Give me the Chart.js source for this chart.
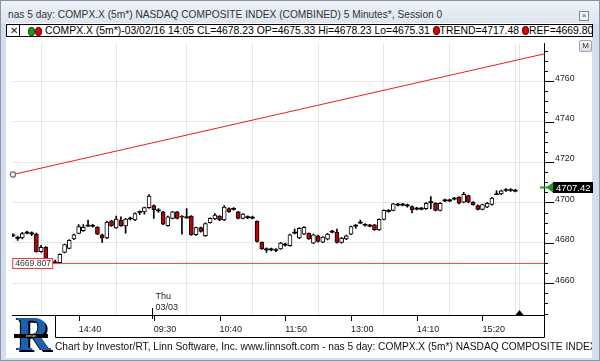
<!DOCTYPE html>
<html>
<head>
<meta charset="utf-8">
<script src="https://cdn.jsdelivr.net/npm/chart.js@4.4.1/dist/chart.umd.min.js"></script>
<style>
html,body{margin:0;padding:0;width:600px;height:361px;overflow:hidden;font-family:'Liberation Sans',Arial,sans-serif;}
#win{position:absolute;left:0;top:0;width:598px;height:359px;background:#d3deed;border:1px solid #8a96a3;}
#titlebar{position:absolute;left:0;top:0;width:598px;height:23px;background:linear-gradient(#eef2f7,#dde5ef);}
#title{position:absolute;left:7px;top:8px;font-size:10.2px;line-height:12px;color:#333;white-space:nowrap;}
#closebtn{position:absolute;left:578px;top:10px;width:8px;height:8px;border:1px solid #7d8a99;background:#f4f6f9;font-size:8px;line-height:8px;text-align:center;color:#444;}
#panel{position:absolute;left:6px;top:23px;width:586px;height:335px;background:#fff;}
#legend{position:absolute;left:6px;top:24px;width:585px;height:11px;border:1px solid #000;background:#fff;overflow:hidden;white-space:nowrap;}
#lx{position:absolute;left:1px;top:0px;width:11px;height:11px;border-right:1px solid #000;font-size:10px;line-height:11px;text-align:center;color:#222;}
.dot{display:inline-block;width:5px;height:7px;border-radius:50%;vertical-align:-0.5px;}
.g{background:#1f9a1f;border:0.5px solid #0b4d0b;}
.r{background:#e00000;border:0.5px solid #6a0000;}
#ld1{position:absolute;left:21px;top:1.5px;}
#ld2{position:absolute;left:28px;top:1.5px;}
#ltext{position:absolute;left:38px;top:0px;font-size:10.4px;line-height:11px;color:#000;}
#chartbox{position:absolute;left:7px;top:38px;width:586px;height:308px;}
#mbtn{position:absolute;left:579px;top:40px;width:11px;height:10px;border:1px solid #98a4b2;border-radius:2px;background:linear-gradient(#f6f6f6,#d9dde3);font-size:8px;line-height:10px;text-align:center;color:#333;}
#footer{position:absolute;left:55px;top:341px;width:537px;overflow:hidden;white-space:nowrap;font-size:10.2px;line-height:12px;color:#111;}
#logo{position:absolute;left:14px;top:313px;width:40px;height:46px;}
#logoR{position:absolute;left:2px;top:-4px;font-family:'Liberation Serif',serif;font-weight:bold;font-size:48px;line-height:50px;color:#1f5fb0;text-shadow:2px 2px 0 #000,-1px 0 0 #000;}
#logoBand{position:absolute;left:0px;top:21px;width:34px;height:4px;background:#000;font-size:3px;line-height:4px;color:#fff;text-align:center;}
</style>
</head>
<body>
<div id="win">
  <div id="titlebar"><div id="title"></div><div id="closebtn">×</div></div>
</div>
<div id="panel"></div>
<div id="legend"><div id="lx">✕</div><span id="ld1" class="dot g"></span><span id="ld2" class="dot r"></span><div id="ltext"></div></div>
<div id="chartbox"><canvas id="c" width="586" height="308"></canvas></div>
<div id="mbtn">M</div>
<div id="logo"><div id="logoR">R</div><div id="logoBand">investor</div></div>
<div id="footer"></div>
<script>
// ---------- data ----------
const titleText = 'nas 5 day: COMPX.X (5m*) NASDAQ COMPOSITE INDEX (COMBINED) 5 Minutes*, Session 0';
const footerText = 'Chart by Investor/RT, Linn Software, Inc. www.linnsoft.com - nas 5 day: COMPX.X (5m*) NASDAQ COMPOSITE INDEX (COMBINED) 5 Minutes*';
const legendSymbol = 'COMPX.X (5m*)';
const legendTime = '03/02/16 14:05';
const legendCL = 4678.23, legendOP = 4675.33, legendHI = 4678.23, legendLO = 4675.31;
const trendLegend = 4717.48;

const xTickIndex  = [14, 30, 44, 58, 72, 86, 100];
const xTickLabels = ['14:40', '09:30', '10:40', '11:50', '13:00', '14:10', '15:20'];
const yTickValues = [4660, 4680, 4700, 4720, 4740, 4760];
const dayBreakIndex = 29.6;
const dayLabel = ['Thu', '03/03'];
const cursorIndex = 107.8;

const opens = [
4683.8,4682.6,4682.5,4685.0,4684.8,4684.3,4675.7,4677.8,4670.6,4670.4,
4670.2,4675.3,4677.3,4681.9,4684.7,4686.0,4688.6,4688.5,4687.7,4684.0,
4682.4,4690.9,4687.4,4691.3,4688.4,4692.0,4691.3,4695.2,4695.3,4697.4,
4698.5,4696.2,4695.3,4688.5,4692.1,4695.3,4693.2,4692.6,4693.2,4684.0,
4687.5,4683.5,4690.0,4691.8,4693.2,4691.3,4696.9,4696.8,4695.3,4692.1,
4692.8,4692.5,4690.6,4680.2,4676.8,4676.8,4676.5,4677.0,4679.2,4678.6,
4685.0,4682.4,4684.3,4684.7,4679.9,4683.5,4680.4,4681.8,4685.5,4685.2,
4680.2,4681.9,4684.3,4688.6,4690.1,4689.0,4688.6,4688.9,4686.4,4691.6,
4695.9,4696.1,4699.0,4699.0,4698.6,4698.0,4697.0,4697.0,4696.9,4700.2,
4699.6,4696.1,4701.1,4701.1,4701.9,4702.6,4700.1,4703.4,4700.1,4698.5,
4696.6,4697.7,4699.0,4704.1,4704.2,4706.2,4706.2,4705.9];
const highs = [
4684.6,4683.4,4685.2,4685.8,4685.4,4684.8,4678.8,4678.2,4671.8,4671.5,
4674.6,4679.4,4681.6,4684.4,4689.0,4689.0,4691.3,4689.2,4688.0,4684.4,
4690.6,4691.2,4693.2,4692.9,4692.1,4692.8,4694.8,4695.8,4697.7,4703.9,
4698.8,4696.9,4695.6,4693.2,4695.6,4695.6,4693.5,4696.9,4693.5,4687.8,
4687.8,4689.9,4692.4,4694.5,4693.5,4698.5,4697.3,4697.5,4695.6,4694.5,
4693.4,4693.2,4690.9,4680.5,4677.5,4677.4,4677.2,4680.2,4679.9,4684.3,
4686.8,4687.5,4688.0,4685.0,4684.3,4683.8,4683.1,4684.7,4686.2,4686.8,
4682.7,4683.8,4688.3,4689.0,4691.3,4689.6,4689.2,4689.2,4691.9,4696.4,
4696.5,4699.6,4699.6,4699.6,4699.2,4698.3,4697.6,4697.6,4699.9,4702.9,
4699.9,4699.9,4701.7,4701.7,4702.5,4702.9,4705.0,4703.7,4700.4,4698.8,
4699.2,4699.9,4702.5,4705.8,4706.1,4706.8,4706.8,4706.5];
const lows = [
4683.0,4681.2,4682.0,4684.4,4683.6,4675.4,4675.3,4671.8,4670.2,4669.9,
4669.9,4675.0,4677.0,4681.6,4684.4,4685.6,4688.1,4687.8,4684.0,4680.2,
4682.1,4688.1,4687.1,4688.1,4684.8,4691.4,4691.0,4694.0,4694.2,4697.1,
4692.1,4695.2,4689.0,4688.2,4691.8,4691.8,4684.3,4692.2,4683.7,4683.7,
4685.3,4683.2,4689.7,4691.5,4691.0,4691.0,4695.0,4696.2,4691.8,4691.8,
4692.0,4691.8,4680.4,4676.7,4675.3,4676.0,4675.7,4676.7,4678.4,4678.3,
4684.4,4682.1,4684.0,4681.7,4679.6,4680.4,4680.1,4681.5,4684.9,4679.9,
4679.9,4681.6,4684.0,4687.2,4689.6,4688.3,4687.9,4686.1,4686.1,4691.3,
4695.2,4695.8,4698.3,4698.3,4697.7,4694.8,4696.3,4696.3,4696.6,4696.9,
4695.8,4695.8,4700.4,4700.4,4701.2,4699.3,4699.8,4699.8,4698.6,4696.3,
4696.3,4697.4,4698.7,4703.8,4703.9,4705.5,4705.5,4705.2];
const closes = [
4683.6,4682.4,4684.6,4685.1,4684.6,4675.7,4677.8,4672.1,4670.5,4670.3,
4674.3,4679.1,4681.2,4684.0,4688.0,4687.7,4688.4,4688.4,4684.3,4682.4,
4690.3,4688.4,4691.8,4688.4,4691.8,4692.1,4694.5,4695.3,4697.4,4703.1,
4696.4,4696.0,4689.3,4692.9,4695.3,4692.1,4692.7,4692.7,4684.0,4687.5,
4685.6,4689.6,4692.1,4693.7,4691.3,4697.7,4695.3,4696.9,4692.1,4694.2,
4692.7,4692.4,4680.7,4677.0,4676.7,4676.7,4676.4,4679.9,4679.1,4684.0,
4685.1,4687.2,4687.7,4682.0,4684.0,4680.7,4682.8,4684.4,4685.6,4680.2,
4682.4,4683.5,4688.0,4688.5,4690.0,4688.9,4688.5,4686.4,4691.6,4696.1,
4695.8,4699.3,4698.9,4698.9,4698.5,4696.4,4696.9,4696.9,4699.6,4700.1,
4696.1,4699.6,4701.0,4701.0,4701.8,4699.6,4704.0,4700.1,4698.9,4696.6,
4698.9,4699.6,4702.2,4704.0,4705.8,4706.1,4706.1,4705.8];

const trendX = [0, 113.1];
const trendY = [4713.8, 4773.5];
const refValue = 4669.807;
const lastPrice = 4707.42;

const xMin = -0.15, xMax = 113.1;
const yMin = 4644.3, yMax = 4778.8;

// ---------- text ----------
document.getElementById('title').textContent = titleText;
document.getElementById('footer').textContent = footerText;
document.getElementById('ltext').innerHTML =
  legendSymbol + '-' + legendTime + ' CL=' + legendCL.toFixed(2) + ' OP=' + legendOP.toFixed(2) +
  ' Hi=' + legendHI.toFixed(2) + ' Lo=' + legendLO.toFixed(2) +
  ' <span class="dot r"></span>TREND=' + trendLegend.toFixed(2) +
  ' <span class="dot r"></span>REF=' + refValue.toFixed(3);

// ---------- datasets ----------
const FONT = "'Liberation Sans', Arial, sans-serif";
Chart.defaults.font.family = FONT;
const idx = opens.map((_, i) => i);
const isDoji = i => Math.abs(opens[i] - closes[i]) < 0.35;
const wickData = idx.map(i => ({x: i, y: [lows[i], highs[i]]}));
const bodyData = idx.map(i => {
  const o = opens[i], c = closes[i];
  if (isDoji(i)) { const m = (o + c) / 2; return {x: i, y: [m - 0.25, m + 0.25]}; }
  return {x: i, y: [Math.min(o, c), Math.max(o, c)]};
});
const bodyFill = idx.map(i => isDoji(i) ? '#000' : (closes[i] > opens[i] ? '#ffffff' : '#c00000'));
const bodyBorder = idx.map(i => isDoji(i) ? 0 : 1);

const overlay = {
  id: 'overlay',
  beforeDatasetsDraw(chart) {
    const ctx = chart.ctx, xs = chart.scales.x, ca = chart.chartArea;
    ctx.save();
    ctx.strokeStyle = '#e6e6e6'; ctx.lineWidth = 1;
    const cx = Math.round(xs.getPixelForValue(cursorIndex)) + 0.5;
    ctx.beginPath(); ctx.moveTo(cx, ca.top); ctx.lineTo(cx, ca.bottom); ctx.stroke();
    ctx.restore();
  },
  afterDraw(chart) {
    const ctx = chart.ctx, xs = chart.scales.x, ys = chart.scales.y, ca = chart.chartArea;
    ctx.save();
    ctx.strokeStyle = '#000'; ctx.lineWidth = 1;
    ctx.beginPath();
    for (const t of ys.ticks) {
      const y = Math.round(ys.getPixelForValue(t.value)) + 0.5;
      const major = yTickValues.includes(t.value);
      ctx.moveTo(ca.right, y); ctx.lineTo(ca.right + (major ? 10 : 4), y);
    }
    for (const v of xTickIndex) {
      const x = Math.round(xs.getPixelForValue(v)) + 0.5;
      ctx.moveTo(x, ca.bottom); ctx.lineTo(x, ca.bottom + 6);
    }
    const dx = Math.round(xs.getPixelForValue(dayBreakIndex)) + 0.5;
    ctx.moveTo(dx, ca.bottom - 7); ctx.lineTo(dx, ca.bottom + 4);
    const boxBottom = ca.bottom + 22.5;
    const boxLeft = 48.5;
    ctx.moveTo(boxLeft, ca.bottom); ctx.lineTo(boxLeft, boxBottom);
    ctx.lineTo(ca.right + 0.5, boxBottom); ctx.lineTo(ca.right + 0.5, ca.bottom);
    ctx.stroke();
    ctx.fillStyle = '#222'; ctx.font = '9px ' + FONT; ctx.textBaseline = 'middle'; ctx.textAlign = 'left';
    ctx.fillText(dayLabel[0], dx + 3, ca.bottom - 18);
    ctx.fillText(dayLabel[1], dx + 3, ca.bottom - 7);
    const cx = Math.round(xs.getPixelForValue(cursorIndex)) + 0.5;
    ctx.fillStyle = '#000';
    ctx.beginPath(); ctx.moveTo(cx - 4, ca.bottom); ctx.lineTo(cx + 4, ca.bottom); ctx.lineTo(cx, ca.bottom - 5); ctx.closePath(); ctx.fill();
    const ry = Math.round(ys.getPixelForValue(refValue)) + 0.5;
    ctx.fillStyle = '#fff'; ctx.strokeStyle = '#f03a3a';
    ctx.fillRect(ca.left + 0.5, ry - 5, 40, 10); ctx.strokeRect(ca.left + 0.5, ry - 5, 40, 10);
    ctx.fillStyle = '#333'; ctx.font = '8.6px ' + FONT;
    ctx.fillText(refValue.toFixed(3), ca.left + 3, ry + 0.5);
    const ly = Math.round(ys.getPixelForValue(lastPrice)) + 0.5;
    ctx.strokeStyle = '#1a9a1a'; ctx.lineWidth = 2;
    ctx.beginPath(); ctx.moveTo(ca.right - 4, ly); ctx.lineTo(ca.right + 3, ly); ctx.stroke();
    ctx.fillStyle = '#1a9a1a';
    ctx.beginPath(); ctx.moveTo(ca.right + 2, ly); ctx.lineTo(ca.right + 9, ly - 5); ctx.lineTo(ca.right + 9, ly + 5); ctx.closePath(); ctx.fill();
    ctx.fillStyle = '#000'; ctx.fillRect(ca.right + 9, ly - 5.5, 40, 11);
    ctx.fillStyle = '#fff'; ctx.font = '9.6px ' + FONT;
    ctx.fillText(lastPrice.toFixed(2), ca.right + 12, ly + 0.5);
    ctx.restore();
  }
};

new Chart(document.getElementById('c'), {
  type: 'bar',
  data: {
    datasets: [
      { type: 'line', label: 'TREND', data: trendX.map((x, i) => ({x: x, y: trendY[i]})),
        borderColor: '#e81e1e', borderWidth: 1, pointRadius: [2.6, 0], pointBorderColor: '#666',
        pointBackgroundColor: '#fff', pointBorderWidth: 1.2, tension: 0, clip: false, order: 1 },
      { type: 'line', label: 'REF', data: [{x: xMin, y: refValue}, {x: xMax, y: refValue}],
        borderColor: '#f24a4a', borderWidth: 1, pointRadius: 0, tension: 0, order: 1 },
      { type: 'bar', label: 'body', data: bodyData, backgroundColor: bodyFill, borderColor: '#000',
        borderWidth: bodyBorder, borderSkipped: false, barThickness: 4, grouped: false, order: 2 },
      { type: 'bar', label: 'wick', data: wickData, backgroundColor: '#000', borderWidth: 0,
        barThickness: 1, grouped: false, order: 3 }
    ]
  },
  options: {
    responsive: false, animation: false, devicePixelRatio: 1, events: [],
    layout: { padding: { left: 1, top: 0, right: 0, bottom: 0 } },
    plugins: { legend: { display: false }, tooltip: { enabled: false } },
    scales: {
      x: {
        type: 'linear', min: xMin, max: xMax, offset: false,
        afterBuildTicks: s => { s.ticks = xTickIndex.map(v => ({value: v})); },
        afterFit: s => { s.height = 31; s.paddingLeft = 0; s.paddingRight = 0; },
        grid: { color: '#e6e6e6', drawTicks: false, lineWidth: 1 },
        border: { display: true, color: '#000', width: 1 },
        ticks: { padding: 9, align: 'start', autoSkip: false, maxRotation: 0, color: '#222',
          font: { size: 9 }, callback: (v, i) => xTickLabels[i] }
      },
      y: {
        type: 'linear', position: 'right', min: yMin, max: yMax,
        afterBuildTicks: s => { const t = []; for (let v = 4645; v <= 4775; v += 5) t.push({value: v}); s.ticks = t; },
        afterFit: s => { s.width = 49; s.paddingTop = 0; s.paddingBottom = 0; },
        grid: { color: c => (c.tick && yTickValues.includes(c.tick.value)) ? '#e6e6e6' : 'rgba(0,0,0,0)', drawTicks: false, lineWidth: 1 },
        border: { display: true, color: '#000', width: 1 },
        ticks: { padding: 11, labelOffset: -3, autoSkip: false, color: '#222', font: { size: 8.8 },
          callback: v => yTickValues.includes(v) ? String(v) : '' }
      }
    }
  },
  plugins: [overlay]
});
</script>
</body>
</html>
